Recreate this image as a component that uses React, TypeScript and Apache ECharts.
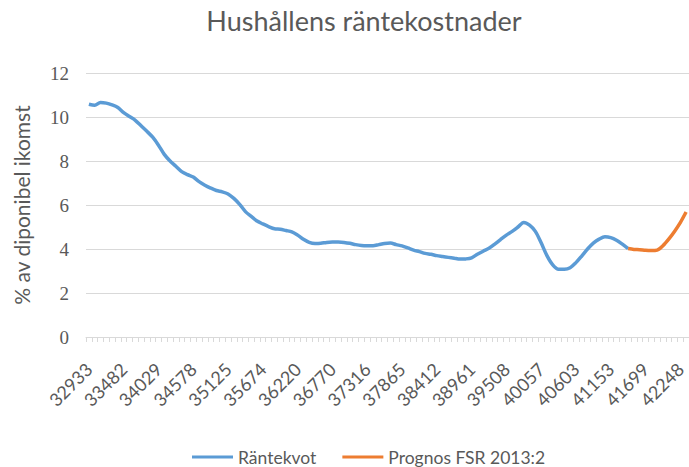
import React, { useEffect, useRef } from "react";
import * as echarts from "echarts";

// Quarterly observations from 1990 Q1 (Excel serial dates as category labels)
const START_YEAR = 1990;
const QUARTER_COUNT = 104;

const rantekvot: (number | null)[] = [
  10.58, 10.53, 10.66, 10.63, 10.55, 10.43, 10.2, 10.02, 9.85, 9.6,
  9.35, 9.08, 8.72, 8.3, 8.0, 7.76, 7.52, 7.38, 7.27, 7.06,
  6.9, 6.77, 6.66, 6.6, 6.5, 6.3, 6.03, 5.7, 5.48, 5.27,
  5.14, 5.02, 4.92, 4.9, 4.84, 4.78, 4.63, 4.44, 4.3, 4.25,
  4.26, 4.3, 4.32, 4.32, 4.3, 4.26, 4.2, 4.16, 4.15, 4.15,
  4.2, 4.25, 4.27, 4.2, 4.14, 4.05, 3.95, 3.88, 3.8, 3.76,
  3.7, 3.66, 3.62, 3.58, 3.54, 3.55, 3.6, 3.76, 3.9, 4.03,
  4.22, 4.43, 4.63, 4.8, 5.0, 5.21, 5.08, 4.8, 4.28, 3.7,
  3.28, 3.08, 3.08, 3.15, 3.38, 3.68, 4.0, 4.27, 4.45, 4.56,
  4.52, 4.4, 4.22, 4.02,
];

const prognosStartIndex = 93;
const prognosValues: number[] = [4.02, 3.98, 3.97, 3.94, 3.93, 3.95, 4.15, 4.45, 4.8, 5.2, 5.68];

const yTicks = { min: 0, max: 12, interval: 2 };

const seriesNames = ["Räntekvot", "Prognos FSR 2013:2"];
const titleText = "Hushållens räntekostnader";
const yAxisName = "% av diponibel ikomst";

function excelSerial(year: number, month: number): number {
  return Math.round((Date.UTC(year, month - 1, 1) - Date.UTC(1899, 11, 30)) / 86400000);
}

const categories: string[] = Array.from({ length: QUARTER_COUNT }, (_, i) => {
  const y = START_YEAR + Math.floor(i / 4);
  const m = 3 + (i % 4) * 3;
  return String(excelSerial(y, m));
});

const prognos: (number | null)[] = categories.map((_, i) =>
  i >= prognosStartIndex && i - prognosStartIndex < prognosValues.length
    ? prognosValues[i - prognosStartIndex]
    : null
);

const FONT = "Lato, 'Open Sans', sans-serif";
const SERIF = "'Liberation Serif', 'DejaVu Serif', serif";
const TEXT = "#595959";
const GRID = "#d9d9d9";

export default function App() {
  const ref = useRef<HTMLDivElement>(null);
  useEffect(() => {
    document.body.style.margin = "0";
    if (!ref.current) return;
    const chart = echarts.init(ref.current, undefined, { renderer: "svg" });
    chart.setOption({
      animation: false,
      backgroundColor: "#ffffff",
      title: {
        text: titleText,
        left: 364,
        top: 7,
        padding: 0,
        textAlign: "center",
        textStyle: { fontFamily: FONT, fontSize: 27, fontWeight: "normal", color: TEXT },
      },
      legend: {
        data: seriesNames,
        left: 192,
        top: 448,
        itemGap: 26,
        itemWidth: 41,
        itemHeight: 3,
        icon: "rect",
        padding: 0,
        textStyle: { fontFamily: FONT, fontSize: 17.5, color: TEXT },
      },
      grid: { left: 86, right: 0, top: 73, bottom: 130, containLabel: false },
      xAxis: {
        type: "category",
        data: categories,
        boundaryGap: true,
        axisLine: { lineStyle: { color: GRID, width: 1 } },
        axisTick: { show: true, interval: 0, length: 5, lineStyle: { color: GRID } },
        axisLabel: {
          interval: 5,
          rotate: 45,
          margin: 29,
          fontFamily: FONT,
          fontSize: 18,
          color: TEXT,
        },
        splitLine: { show: false },
      },
      yAxis: {
        type: "value",
        min: yTicks.min,
        max: yTicks.max,
        interval: yTicks.interval,
        name: yAxisName,
        nameLocation: "middle",
        nameGap: 54,
        nameTextStyle: { fontFamily: FONT, fontSize: 21, color: TEXT },
        axisLine: { show: false },
        axisTick: { show: false },
        axisLabel: { margin: 17, fontFamily: SERIF, fontSize: 19, color: TEXT },
        splitLine: { lineStyle: { color: GRID, width: 1 } },
      },
      series: [
        {
          name: seriesNames[0],
          type: "line",
          data: rantekvot,
          symbol: "none",
          smooth: 0.3,
          lineStyle: { color: "#5B9BD5", width: 3.5 },
          itemStyle: { color: "#5B9BD5" },
        },
        {
          name: seriesNames[1],
          type: "line",
          data: prognos,
          symbol: "none",
          smooth: 0.3,
          lineStyle: { color: "#ED7D31", width: 3.5 },
          itemStyle: { color: "#ED7D31" },
        },
      ],
    });
    return () => chart.dispose();
  }, []);
  return <div ref={ref} style={{ width: 689, height: 467 }} />;
}
